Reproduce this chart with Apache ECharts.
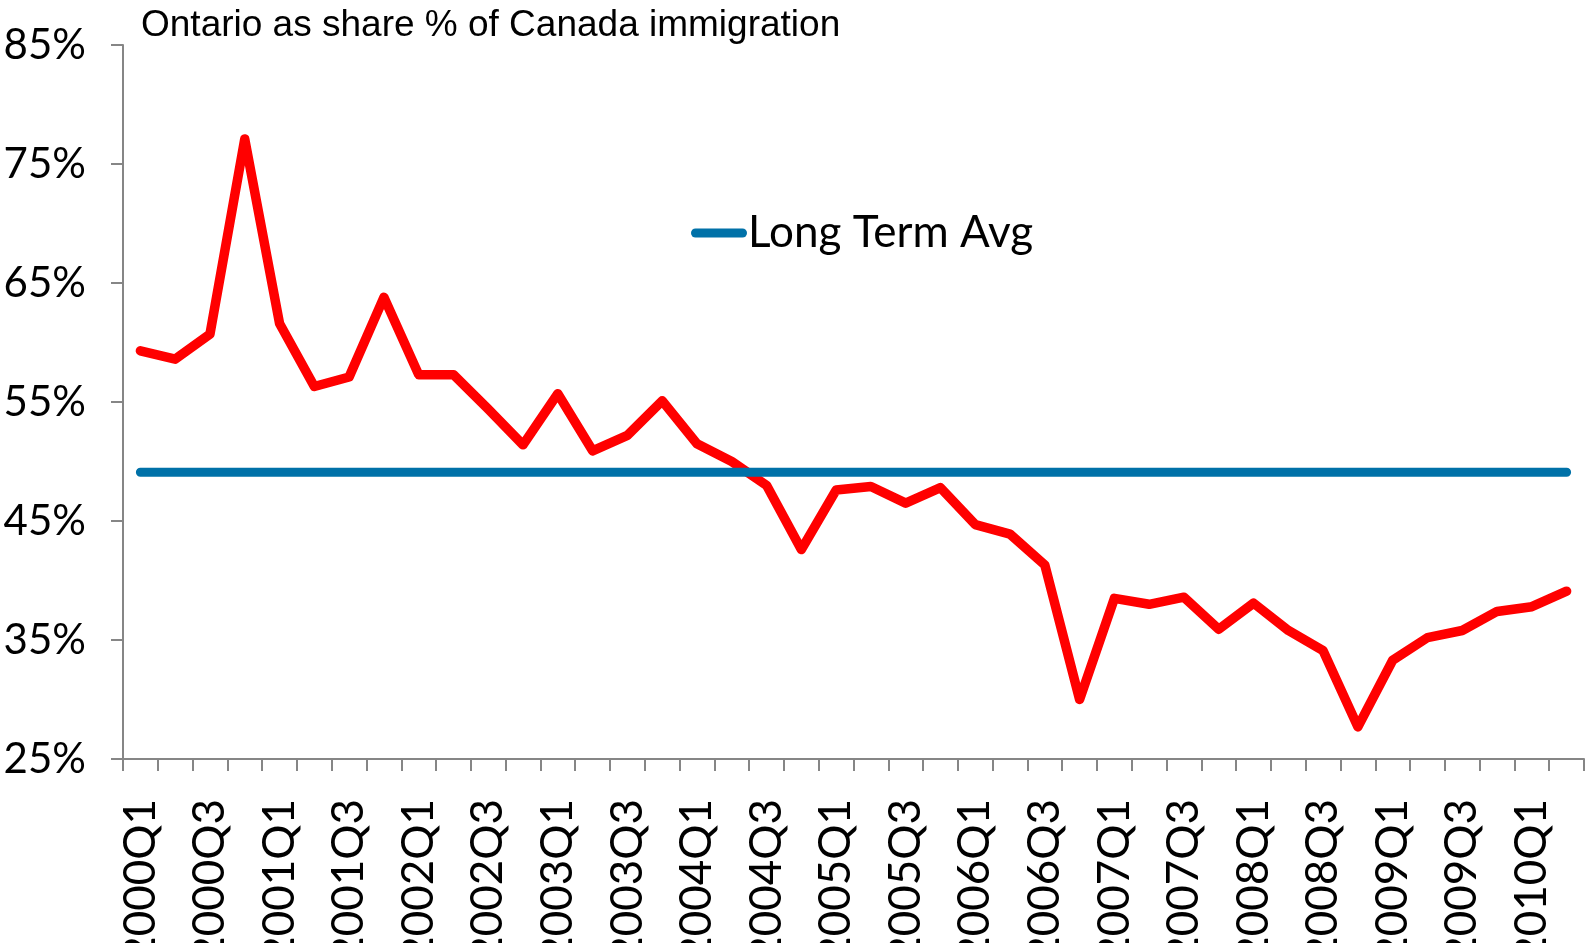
<!DOCTYPE html>
<html>
<head>
<meta charset="utf-8">
<script src="https://cdn.jsdelivr.net/npm/echarts@6/dist/echarts.min.js"></script>
<style>
  html, body { margin: 0; padding: 0; background: #fff; }
  #chart { width: 1587px; height: 943px; }
</style>
</head>
<body>
<div id="chart"></div>
<script>
const quarters = [
  '2000Q1', '2000Q2', '2000Q3', '2000Q4',
  '2001Q1', '2001Q2', '2001Q3', '2001Q4',
  '2002Q1', '2002Q2', '2002Q3', '2002Q4',
  '2003Q1', '2003Q2', '2003Q3', '2003Q4',
  '2004Q1', '2004Q2', '2004Q3', '2004Q4',
  '2005Q1', '2005Q2', '2005Q3', '2005Q4',
  '2006Q1', '2006Q2', '2006Q3', '2006Q4',
  '2007Q1', '2007Q2', '2007Q3', '2007Q4',
  '2008Q1', '2008Q2', '2008Q3', '2008Q4',
  '2009Q1', '2009Q2', '2009Q3', '2009Q4',
  '2010Q1', '2010Q2'
]

// Ontario share of Canada immigration, %
const ontarioShare = [
  59.3, 58.6, 60.7, 77.1,
  61.6, 56.3, 57.1, 63.8,
  57.3, 57.3, 54.4, 51.4,
  55.7, 50.9, 52.2, 55.1,
  51.5, 50.0, 48.0, 42.6,
  47.6, 47.9, 46.5, 47.8,
  44.7, 43.9, 41.3, 30.0,
  38.5, 38.0, 38.6, 35.9,
  38.1, 35.8, 34.1, 27.7,
  33.3, 35.2, 35.8, 37.4,
  37.8, 39.1
]

const longTermAvg = [
  49.1, 49.1, 49.1, 49.1, 49.1, 49.1, 49.1, 49.1, 49.1, 49.1, 49.1, 49.1, 49.1, 49.1,
  49.1, 49.1, 49.1, 49.1, 49.1, 49.1, 49.1, 49.1, 49.1, 49.1, 49.1, 49.1, 49.1, 49.1,
  49.1, 49.1, 49.1, 49.1, 49.1, 49.1, 49.1, 49.1, 49.1, 49.1, 49.1, 49.1, 49.1, 49.1
]

const yTicks = [25, 35, 45, 55, 65, 75, 85]

const AXIS_COLOR = '#868686'
const LABEL_FONT = 'Lato, "Noto Sans", sans-serif'

let chart = echarts.init(document.getElementById('chart'))

chart.setOption({
  animation: false,
  backgroundColor: '#fff',
  title: {
    text: 'Ontario as share % of Canada immigration',
    left: 141,
    top: 7,
    padding: 0,
    textStyle: {
      fontFamily: '"Liberation Sans", Arial, sans-serif',
      fontSize: 37,
      fontWeight: 'normal',
      color: '#000'
    }
  },
  legend: {
    left: 691,
    top: 211,
    padding: 0,
    itemWidth: 56,
    itemHeight: 9,
    data: [{
      name: 'Long Term Avg',
      icon: 'path://M4.5,0 L51.5,0 A4.5,4.5 0 0 1 51.5,9 L4.5,9 A4.5,4.5 0 0 1 4.5,0 Z'
    }],
    textStyle: {
      fontFamily: LABEL_FONT,
      fontSize: 44,
      color: '#000',
      padding: [0, 0, 0, -4]
    }
  },
  grid: {
    left: 123,
    right: 3,
    top: 45,
    bottom: 184,
    outerBoundsMode: 'none'
  },
  xAxis: {
    type: 'category',
    data: quarters,
    boundaryGap: true,
    axisLine: {
      lineStyle: { color: AXIS_COLOR, width: 2 }
    },
    axisTick: {
      show: true,
      interval: 0,
      length: 12,
      lineStyle: { color: AXIS_COLOR, width: 2 }
    },
    axisLabel: {
      interval: 1,
      rotate: 90,
      margin: 40,
      fontFamily: LABEL_FONT,
      fontSize: 44,
      color: '#000'
    },
    splitLine: { show: false }
  },
  yAxis: {
    type: 'value',
    min: yTicks[0],
    max: yTicks[yTicks.length - 1],
    interval: 10,
    axisLine: {
      show: true,
      lineStyle: { color: AXIS_COLOR, width: 2 }
    },
    axisTick: {
      show: true,
      length: 12,
      lineStyle: { color: AXIS_COLOR, width: 2 }
    },
    axisLabel: {
      margin: 37,
      formatter: '{value}%',
      fontFamily: LABEL_FONT,
      fontSize: 42,
      color: '#000'
    },
    splitLine: { show: false }
  },
  series: [
    {
      name: 'Ontario share',
      type: 'line',
      data: ontarioShare,
      symbol: 'none',
      color: '#ff0000',
      lineStyle: {
        color: '#ff0000',
        width: 9.5,
        cap: 'round',
        join: 'round'
      }
    },
    {
      name: 'Long Term Avg',
      type: 'line',
      data: longTermAvg,
      symbol: 'none',
      color: '#0071a8',
      lineStyle: {
        color: '#0071a8',
        width: 9,
        cap: 'round'
      }
    }
  ]
})
</script>
</body>
</html>
